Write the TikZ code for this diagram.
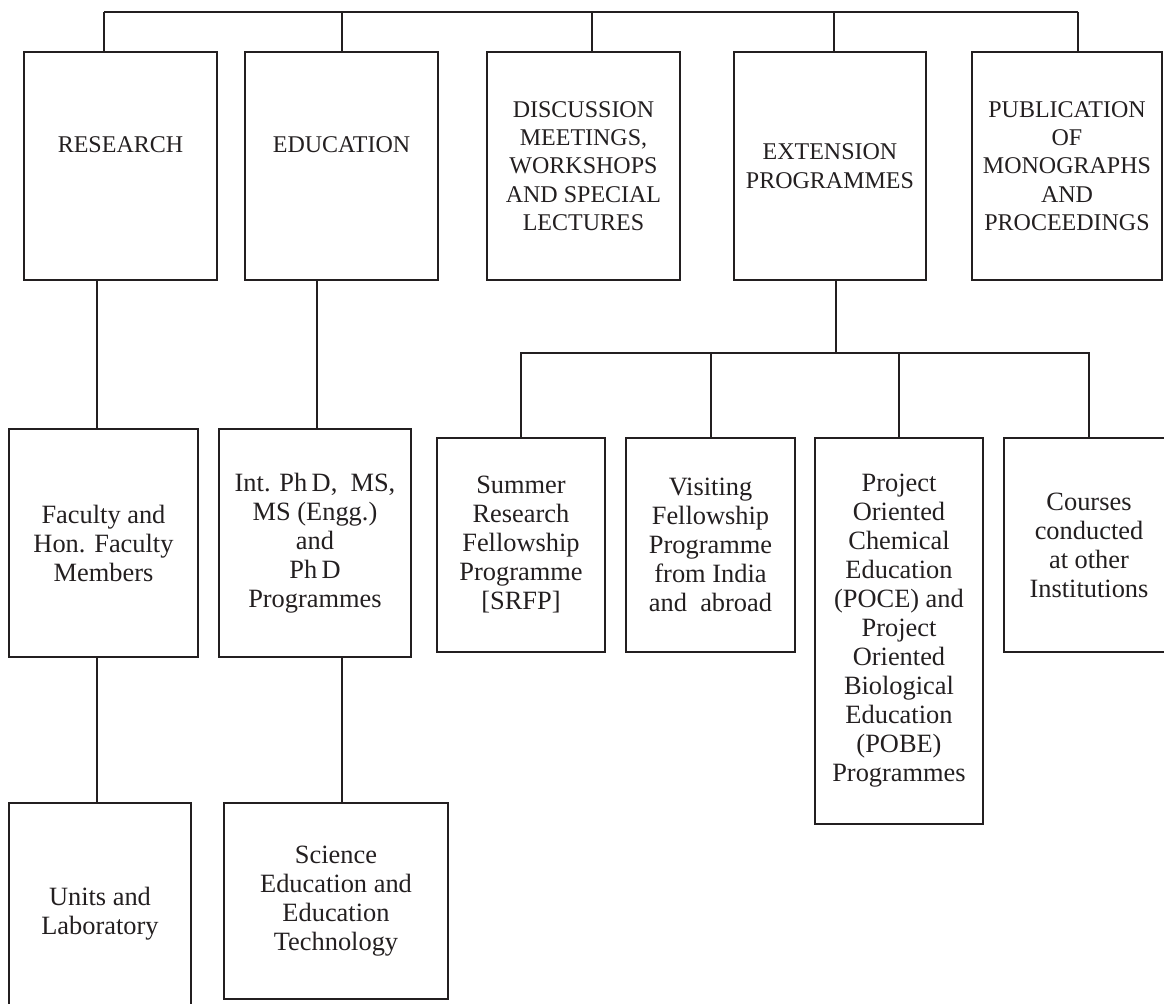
\documentclass[tikz,border=0pt]{standalone}
\usepackage{fontspec}
\setmainfont{Liberation Serif}
\usetikzlibrary{positioning}
\definecolor{ink}{RGB}{35,31,32}

\tikzset{
  box/.style={draw=ink, line width=1pt, text=ink, align=center, inner sep=2pt},
  head/.style={box, font=\fontsize{12}{14.2}\selectfont},
  sub/.style={box, font=\fontsize{13.2}{14.5}\selectfont},
  dims/.style 2 args={minimum width=#1*0.5pt, minimum height=#2*0.5pt},
  wire/.style={draw=ink, line width=1pt},
}

\begin{document}
\begin{tikzpicture}[x=0.5pt, y=-0.5pt]
    \useasboundingbox (0,0) rectangle (1164,1004);
    \clip (0,0) rectangle (1164,1004);

    % main activities
    \node[head, dims={193}{228}] (research) at (120.5,166) {\raisebox{10.5pt}[\height][\depth]{RESEARCH}};
    \node[head, dims={193}{228}] (education) at (341.5,166) {\raisebox{10.5pt}[\height][\depth]{EDUCATION}};
    \node[head, dims={193}{228}] (discussion) at (583.5,166) {DISCUSSION\\MEETINGS,\\WORKSHOPS\\AND SPECIAL\\LECTURES};
    \node[head, dims={192}{228}] (extension) at (830,166) {EXTENSION\\PROGRAMMES};
    \node[head, dims={190}{228}] (publication) at (1067,166) {PUBLICATION\\OF\\MONOGRAPHS\\AND\\PROCEEDINGS};

    % second level
    \node[sub, dims={189}{228}] (faculty) at (103.5,543) {Faculty and\\Hon. Faculty\\Members};
    \node[sub, dims={192}{228}] (degrees) at (315,543) {Int. Ph\,D,\ \ MS,\\MS (Engg.)\\and\\Ph\,D\\Programmes};
    \node[sub, dims={182}{222}] (units) at (100,914) {Units and\\Laboratory};
    \node[sub, dims={224}{196}] (scienceedu) at (336,901) {Science\\Education and\\Education\\Technology};

    % extension programmes
    \node[sub, dims={168}{214}] (srfp) at (521,545) {Summer\\Research\\Fellowship\\Programme\\{[SRFP]}};
    \node[sub, dims={169}{214}] (visiting) at (710.5,545) {Visiting\\Fellowship\\Programme\\from India\\and\ \ abroad};
    \node[sub, dims={168}{386}] (poce) at (899,631) {Project\\Oriented\\Chemical\\Education\\(POCE) and\\Project\\Oriented\\Biological\\Education\\(POBE)\\Programmes};
    \node[sub, dims={170}{214}] (courses) at (1089,545) {Courses\\conducted\\at other\\Institutions};

    % top bar
    \coordinate (topleft) at (104,12);
    \coordinate (topright) at (1078,12);
    \draw[wire] (topleft) -- (topright);
    \foreach \n/\x in {research/104, education/342, discussion/592, extension/834, publication/1078}
        \draw[wire] (\x,12) -- (\n.north -| \x,12);

    % research and education branches
    \coordinate (resline) at (97,0);
    \coordinate (eduline) at (317,0);
    \coordinate (sciline) at (342,0);
    \draw[wire] (resline |- research.south) -- (resline |- faculty.north);
    \draw[wire] (resline |- faculty.south) -- (resline |- units.north);
    \draw[wire] (eduline |- education.south) -- (eduline |- degrees.north);
    \draw[wire] (sciline |- degrees.south) -- (sciline |- scienceedu.north);

    % extension bar
    \coordinate (bar) at (836,353);
    \draw[wire] (bar |- extension.south) -- (bar);
    \draw[wire] (srfp.north) -- (srfp.north |- bar) -- (courses.north |- bar) -- (courses.north);
    \foreach \n in {visiting, poce}
        \draw[wire] (\n.north) -- (\n.north |- bar);
\end{tikzpicture}
\end{document}
